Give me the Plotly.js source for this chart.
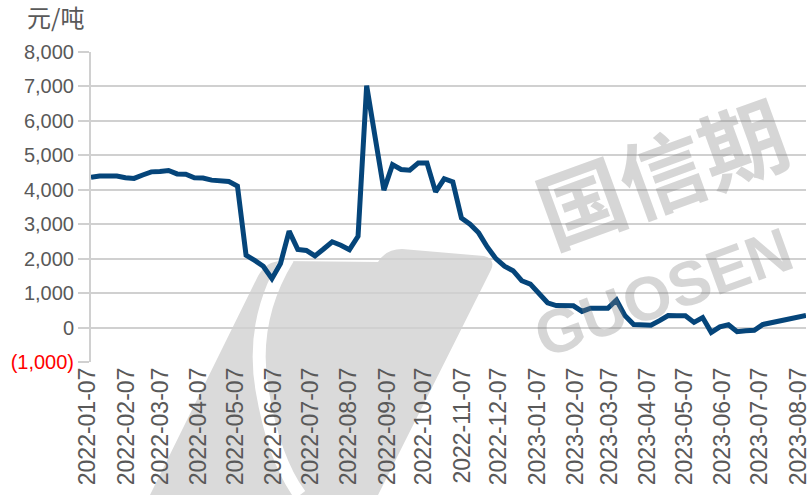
<!DOCTYPE html>
<html><head><meta charset="utf-8">
<script src="https://cdn.plot.ly/plotly-3.0.1.min.js"></script>
<style>html,body{margin:0;padding:0;background:#fff;}#chart{width:811px;height:495px;}</style>
</head><body><div id="chart"></div>
<script>
// weekly dates starting 2022-01-07
const startDate = "2022-01-07";
const values = [
 4360, 4400, 4400, 4400, 4350, 4330, 4430, 4520, 4530, 4560,
 4460, 4450, 4350, 4340, 4280, 4270, 4240, 4110, 2100, 1950,
 1780, 1420, 1860, 2800, 2270, 2240, 2080, 2280, 2490, 2390,
 2260, 2650, 7020, 5500, 3990, 4730, 4590, 4570, 4780, 4780,
 3940, 4320, 4230, 3180, 3000, 2750, 2340, 2000, 1780, 1650,
 1360, 1260, 1000, 720, 640, 640, 630, 470, 560, 560,
 560, 800, 340, 90, 70, 70, 200, 350, 340, 340,
 150, 290, -140, 20, 80, -120, -90, -80, 90, 140,
 200, 250, 290, 350
];
const tickDates = ["2022-01-07","2022-02-07","2022-03-07","2022-04-07","2022-05-07","2022-06-07","2022-07-07","2022-08-07","2022-09-07","2022-10-07","2022-11-07","2022-12-07","2023-01-07","2023-02-07","2023-03-07","2023-04-07","2023-05-07","2023-06-07","2023-07-07","2023-08-07"];
const yTicks = [-1000,0,1000,2000,3000,4000,5000,6000,7000,8000];
const yTickText = ['<span style="color:#ff0000">(1,000)</span>','0','1,000','2,000','3,000','4,000','5,000','6,000','7,000','8,000'];
const unitLabel = '元/吨';
const watermarkCN = '国信期';
const watermarkEN = 'GUOSEN';

const dates = values.map((v,i)=>{
  const d = new Date(startDate+"T00:00:00Z");
  d.setUTCDate(d.getUTCDate()+7*i);
  return d.toISOString().slice(0,10);
});

const trace = {x: dates, y: values, type:'scatter', mode:'lines',
  line:{color:'#05457a', width:5}, hoverinfo:'skip'};

// decorative watermark logo outline (page pixels -> paper units)
const W=811, H=495, ML=91, MR=5, MT=52, MB=133;
const PW=W-ML-MR, PH=H-MT-MB;
function P(px,py){return ((px-ML)/PW).toFixed(4)+','+((H-MB-py)/PH).toFixed(4);}
const logoPath = 'M'+P(150,495)+' L'+P(258,276)+' Q'+P(266,261)+' '+P(282,261)+
  ' L'+P(378,262)+' Q'+P(386,249)+' '+P(402,249)+' L'+P(484,256)+' Q'+P(496,259)+' '+P(491,270)+
  ' L'+P(378,495)+' Z';
const swooshPath = 'M'+P(288,258)+' Q'+P(250,320)+' '+P(262,390)+' T'+P(300,495);

const wm = 'rgba(128,128,128,0.32)';
const layout = {
  width:W, height:H,
  margin:{l:ML, r:MR, t:MT, b:MB},
  paper_bgcolor:'#fff', plot_bgcolor:'rgba(0,0,0,0)',
  showlegend:false,
  font:{family:'"Liberation Sans", Arial, sans-serif', color:'#595959', size:20},
  xaxis:{type:'date', range:[dates[0], dates[dates.length-1]],
    tickvals:tickDates, ticktext:tickDates, tickangle:-90, ticklabeloverflow:'allow',
    ticklabelshift:-3,
    tickfont:{size:23, color:'#595959'},
    showgrid:false, zeroline:false, showline:false, ticks:''},
  yaxis:{range:[-1000,8000], tickvals:yTicks, ticktext:yTickText,
    tickfont:{size:20, color:'#595959'},
    showgrid:true, gridcolor:'#d0d0d0', gridwidth:2, zeroline:false,
    showline:true, linecolor:'#d0d0d0', linewidth:2,
    ticks:'outside', ticklen:11, tickcolor:'#d0d0d0', tickwidth:2},
  shapes:[
   {type:'path', xref:'paper', yref:'paper', layer:'below', path:logoPath,
    fillcolor:'#dadada', line:{width:0}},
   {type:'path', xref:'paper', yref:'paper', layer:'below', path:swooshPath,
    line:{color:'#ffffff', width:13}}
  ],
  annotations:[
   {text:unitLabel, xref:'paper', yref:'paper', x:-0.093, y:1.0, yshift:16,
    xanchor:'left', yanchor:'bottom', showarrow:false,
    font:{family:'"Noto Sans CJK SC", sans-serif', size:24, color:'#595959'}},
   {text:'<b>'+watermarkCN+'</b>', xref:'paper', yref:'paper', x:0.797, y:0.62, xanchor:'center', yanchor:'middle',
    showarrow:false, textangle:-20,
    font:{family:'"Noto Sans CJK SC", sans-serif', size:86, color:wm}},
   {text:'<b>'+watermarkEN+'</b>', xref:'paper', yref:'paper', x:0.80, y:0.225, xanchor:'center', yanchor:'middle',
    showarrow:false, textangle:-20,
    font:{family:'"Liberation Sans", sans-serif', size:62, color:wm}}
  ]
};
Plotly.newPlot('chart',[trace],layout,{displayModeBar:false, staticPlot:true});
</script></body></html>
